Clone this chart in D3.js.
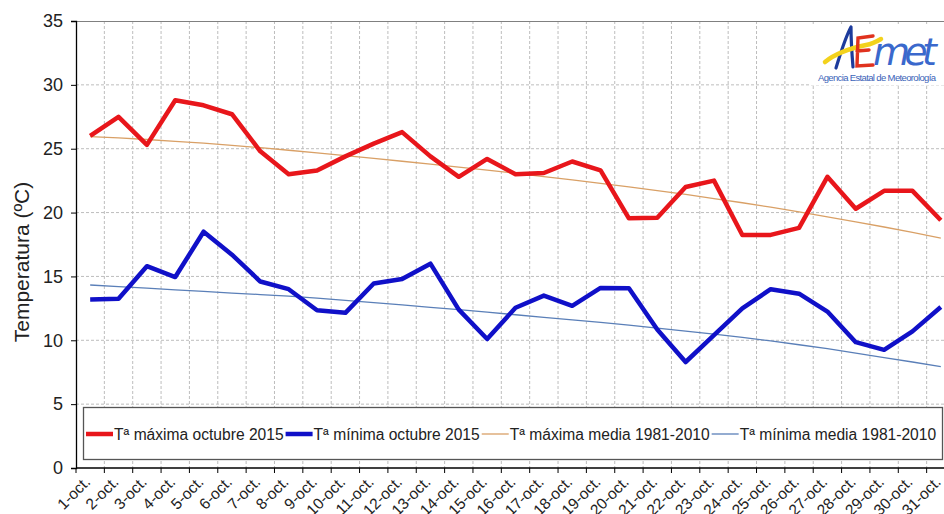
<!DOCTYPE html>
<html>
<head>
<meta charset="utf-8">
<script src="https://cdn.jsdelivr.net/npm/d3@7"></script>
<style>
  html, body { margin: 0; padding: 0; background: #fff; }
  svg { display: block; font-family: "Liberation Sans", Arial, sans-serif; }
</style>
</head>
<body>
<svg id="chart" width="944" height="514"></svg>
<script>
const days = ["1-oct.","2-oct.","3-oct.","4-oct.","5-oct.","6-oct.","7-oct.","8-oct.","9-oct.","10-oct.",
  "11-oct.","12-oct.","13-oct.","14-oct.","15-oct.","16-oct.","17-oct.","18-oct.","19-oct.","20-oct.",
  "21-oct.","22-oct.","23-oct.","24-oct.","25-oct.","26-oct.","27-oct.","28-oct.","29-oct.","30-oct.","31-oct."];
const maxTemp2015 = [26.0,27.5,25.3,28.8,28.4,27.7,24.8,23.0,23.3,24.4,25.4,26.3,24.4,22.8,24.2,23.0,
  23.1,24.0,23.3,19.55,19.6,22.0,22.5,18.25,18.25,18.8,22.8,20.3,21.7,21.7,19.4];
const minTemp2015 = [13.2,13.25,15.8,14.95,18.5,16.7,14.6,14.0,12.35,12.15,14.45,14.8,16.0,12.4,10.1,12.55,
  13.5,12.7,14.1,14.07,10.85,8.3,10.4,12.5,14.0,13.65,12.25,9.85,9.25,10.7,12.6];
const maxMean = [25.95,25.85,25.72,25.58,25.43,25.26,25.08,24.88,24.67,24.46,24.24,24.02,23.8,23.56,23.32,
  23.08,22.82,22.56,22.29,22.01,21.72,21.42,21.1,20.77,20.42,20.05,19.67,19.27,18.87,18.45,18.0];
const minMean = [14.33,14.2,14.08,13.95,13.83,13.7,13.58,13.45,13.3,13.13,12.95,12.77,12.58,12.4,12.2,
  12.0,11.8,11.6,11.4,11.18,10.95,10.72,10.48,10.22,9.95,9.65,9.35,9.0,8.65,8.3,7.93];
const yTicks = [0,5,10,15,20,25,30,35];
const seriesNames = ["Tª máxima octubre 2015","Tª mínima octubre 2015","Tª máxima media 1981-2010","Tª mínima media 1981-2010"];
const yTitle = "Temperatura (ºC)";
const logoSubtitle = "Agencia Estatal de Meteorología";

const series = [
  {name: seriesNames[0], values: maxTemp2015, color: "#e8161b", width: 4.5},
  {name: seriesNames[1], values: minTemp2015, color: "#1010c8", width: 4.5},
  {name: seriesNames[2], values: maxMean, color: "#d9a066", width: 1.3},
  {name: seriesNames[3], values: minMean, color: "#5a7fb8", width: 1.3}
];

const svg = d3.select("#chart");
const L = 76, T = 21, R = 955, B = 468;
const x = d3.scaleBand().domain(days).range([L, R]).padding(0);
const y = d3.scaleLinear().domain([0, 35]).range([B, T]);
const cx = d => x(d) + x.bandwidth() / 2;

// grid
const grid = svg.append("g");
grid.selectAll("line.h").data(yTicks.filter(t => t > 0 && t < 35)).join("line")
  .attr("x1", L).attr("x2", R).attr("y1", d => y(d)).attr("y2", d => y(d))
  .attr("stroke", "#bdbdbd").attr("stroke-width", 1).attr("stroke-dasharray", "3,2");
grid.selectAll("line.v").data(days.slice(1)).join("line")
  .attr("x1", d => x(d)).attr("x2", d => x(d)).attr("y1", T).attr("y2", B)
  .attr("stroke", "#bdbdbd").attr("stroke-width", 1).attr("stroke-dasharray", "3,2");

// top border
svg.append("line").attr("x1", L).attr("x2", R).attr("y1", T + 0.5).attr("y2", T + 0.5)
  .attr("stroke", "#808080").attr("stroke-width", 1.2);

// logo background
svg.append("rect").attr("x", 810).attr("y", 25).attr("width", 134).attr("height", 60).attr("fill", "#fff");

// lines
const line = d3.line().x((v, i) => cx(days[i])).y(v => y(v));
[series[2], series[3], series[0], series[1]].forEach(s => {
  svg.append("path").datum(s.values).attr("d", line)
    .attr("fill", "none").attr("stroke", s.color).attr("stroke-width", s.width)
    .attr("stroke-linejoin", "round");
});

// axes
const yAxis = svg.append("g").attr("transform", `translate(${L},0)`)
  .call(d3.axisLeft(y).tickValues(yTicks).tickSize(5).tickPadding(8).tickFormat(d3.format("d")));
yAxis.select(".domain").attr("stroke", "#000").attr("stroke-width", 1.3);
yAxis.selectAll(".tick line").attr("stroke", "#000");
yAxis.selectAll(".tick text").attr("font-size", 18).attr("fill", "#222")
  .attr("font-family", "Liberation Sans, Arial, sans-serif");

const xAxis = svg.append("g").attr("transform", `translate(0,${B})`);
xAxis.append("line").attr("x1", L).attr("x2", R).attr("y1", 0).attr("y2", 0)
  .attr("stroke", "#000").attr("stroke-width", 1.3);
xAxis.selectAll("line.tk").data(days).join("line").attr("class", "tk")
  .attr("x1", d => x(d)).attr("x2", d => x(d)).attr("y1", 0).attr("y2", 5)
  .attr("stroke", "#000");
xAxis.selectAll("text").data(days).join("text")
  .attr("transform", d => `translate(${cx(d) + 1},${15}) rotate(-45)`)
  .attr("text-anchor", "end").attr("font-size", 15.5).attr("fill", "#222")
  .text(d => d);

// y title
svg.append("text").attr("transform", "translate(29,262) rotate(-90)")
  .attr("text-anchor", "middle").attr("font-size", 21).attr("fill", "#222").text(yTitle);

// legend
const lg = svg.append("g");
lg.append("rect").attr("x", 83.5).attr("y", 407.5).attr("width", 859).attr("height", 52)
  .attr("fill", "#fff").attr("stroke", "#555").attr("stroke-width", 1.3);
let lx = 86;
const ly = 434;
series.forEach(s => {
  lg.append("line").attr("x1", lx).attr("x2", lx + 27).attr("y1", ly).attr("y2", ly)
    .attr("stroke", s.color).attr("stroke-width", s.width);
  const t = lg.append("text").attr("x", lx + 28).attr("y", ly + 5.5).attr("font-size", 15.6)
    .attr("fill", "#222").text(s.name);
  lx += 28 + t.node().getComputedTextLength() + 2;
});

// logo
const logo = svg.append("g");
logo.append("path").attr("d", "M836,68 C841,52 845,38 851,27 M851,27 C851,40 852,55 853,67")
  .attr("fill", "none").attr("stroke", "#1d3b9c").attr("stroke-width", 3.2).attr("stroke-linecap", "round");
logo.append("path").attr("d", "M825,62 C837,52 852,48 866,45 C872,44 876,42 881,39")
  .attr("fill", "none").attr("stroke", "#f3d21c").attr("stroke-width", 4.5).attr("stroke-linecap", "round");
logo.append("path").attr("d", "M873,36 L858,38 L857,66 L873,65 M857,51 L869,50")
  .attr("fill", "none").attr("stroke", "#e0321e").attr("stroke-width", 3.4).attr("stroke-linecap", "round");
logo.append("text").attr("x", 873).attr("y", 65).attr("font-size", 38).attr("font-style", "italic")
  .attr("font-family", "DejaVu Sans, sans-serif").attr("font-weight", 300)
  .attr("fill", "#3a68cc").attr("textLength", 64).text("met");
logo.append("text").attr("x", 818).attr("y", 81).attr("font-size", 9.5)
  .attr("font-family", "Liberation Sans Narrow, Liberation Sans, sans-serif")
  .attr("fill", "#3a62b8").attr("textLength", 118).text(logoSubtitle);
</script>
</body>
</html>
